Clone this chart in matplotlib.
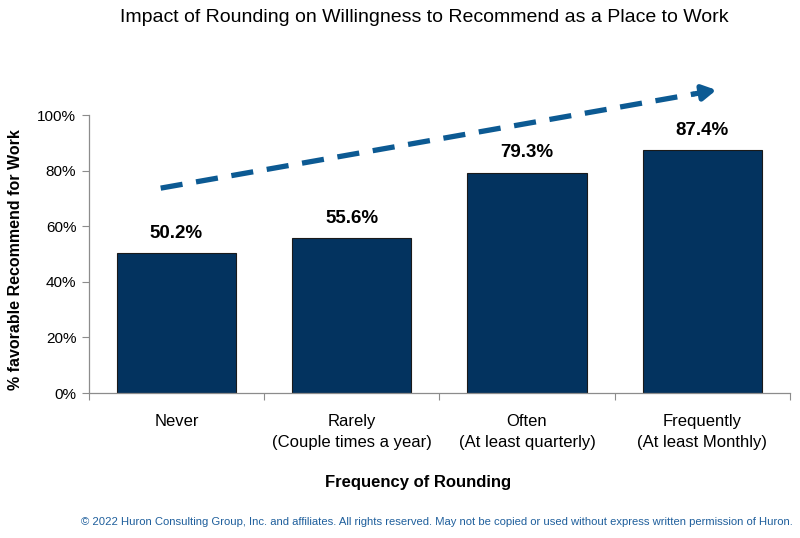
import numpy as np
import matplotlib
matplotlib.use("Agg")
import matplotlib.pyplot as plt

plt.rcParams['font.family'] = ['Liberation Sans', 'DejaVu Sans']

categories = ['Never', 'Rarely\n(Couple times a year)', 'Often\n(At least quarterly)',
              'Frequently\n(At least Monthly)']
values = [50.2, 55.6, 79.3, 87.4]
value_labels = ['50.2%', '55.6%', '79.3%', '87.4%']
y_ticks = [0, 20, 40, 60, 80, 100]
y_tick_labels = ['0%', '20%', '40%', '60%', '80%', '100%']
# trend arrow endpoints (category units, percent)
trend_x = [-0.09, 3.08]
trend_y = [73.7, 109.0]

bar_color = '#03335F'
arrow_color = '#0C5A93'
axis_color = '#8C8C8C'

fig = plt.figure(figsize=(8, 5.38), dpi=100)
ax = fig.add_axes([0.111, 0.2695, 0.8765, 0.5167])

x = np.arange(len(categories))
bars = ax.bar(x, values, width=0.68, color=bar_color, edgecolor='#1a1a1a', linewidth=0.8, zorder=2)

for xi, v, lab in zip(x, values, value_labels):
    ax.annotate(lab, (xi, v), xytext=(0, 8), textcoords='offset points',
                ha='center', va='bottom', fontsize=13.5, fontweight='bold', color='black')

ax.set_xlim(-0.5, 3.5)
ax.set_ylim(0, 100)
ax.set_yticks(y_ticks)
ax.set_yticklabels(y_tick_labels, fontsize=11)

# boundary ticks on x, labels centred under bars
ax.set_xticks(np.arange(-0.5, 4.0, 1.0))
ax.set_xticklabels([])
ax.set_xticks(x, minor=True)
ax.set_xticklabels(categories, minor=True, fontsize=12, linespacing=1.5)
ax.tick_params(axis='x', which='minor', length=0, pad=15)
ax.tick_params(axis='x', which='major', length=5, color=axis_color)
ax.tick_params(axis='y', length=5, color=axis_color, pad=4)

for s in ['top', 'right']:
    ax.spines[s].set_visible(False)
for s in ['left', 'bottom']:
    ax.spines[s].set_color(axis_color)
    ax.spines[s].set_linewidth(0.9)

# dashed trend arrow
frac = 0.96
mid_x = trend_x[0] + frac * (trend_x[1] - trend_x[0])
mid_y = trend_y[0] + frac * (trend_y[1] - trend_y[0])
ax.plot([trend_x[0], mid_x], [trend_y[0], mid_y], color=arrow_color, linewidth=3.8,
        linestyle=(0, (4.2, 2.6)), solid_capstyle='butt', dash_capstyle='butt', clip_on=False, zorder=3)
ax.annotate('', xy=(trend_x[1], trend_y[1]), xytext=(mid_x, mid_y),
            arrowprops=dict(arrowstyle='-|>,head_length=0.8,head_width=0.45', color=arrow_color,
                            lw=3.8, shrinkA=0, shrinkB=0), annotation_clip=False, zorder=3)

fig.text(0.53, 1 - 18 / 538, 'Impact of Rounding on Willingness to Recommend as a Place to Work',
         ha='center', va='center', fontsize=14)
fig.text(16 / 800, 1 - 260 / 538, '% favorable Recommend for Work', rotation=90,
         ha='center', va='center', fontsize=11.5, fontweight='bold')
fig.text(418 / 800, 1 - 483 / 538, 'Frequency of Rounding', ha='center', va='center',
         fontsize=12, fontweight='bold')
fig.text(793 / 800, 1 - 522 / 538,
         '\u00a9 2022 Huron Consulting Group, Inc. and affiliates. All rights reserved. '
         'May not be copied or used without express written permission of Huron.',
         ha='right', va='center', fontsize=8.1, color='#1F5F9C')

fig.savefig('out.png', dpi=100)
